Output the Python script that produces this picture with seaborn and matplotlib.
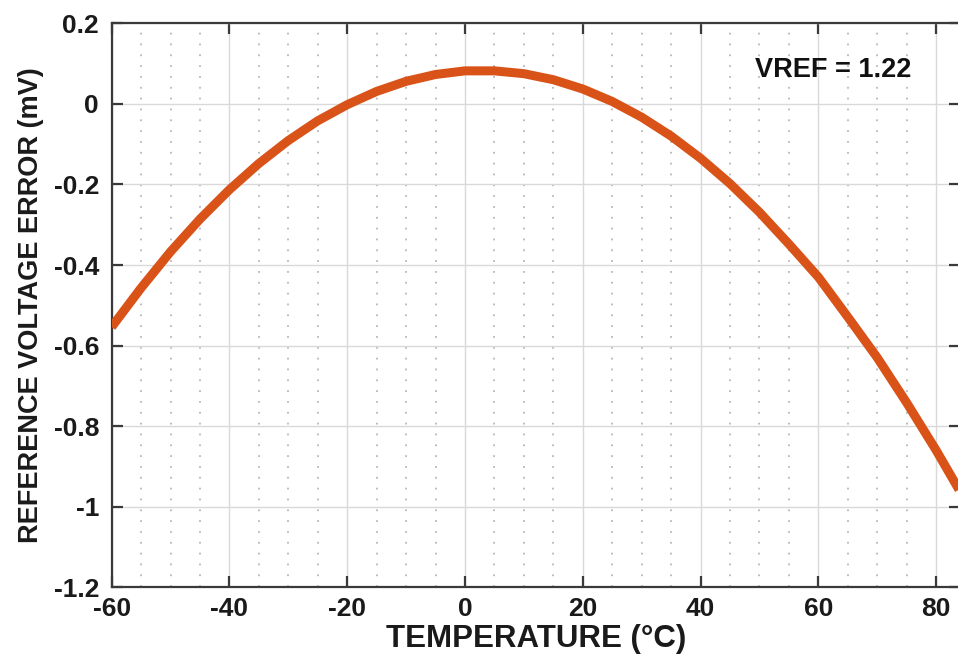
"""
Reference voltage error vs temperature (MATLAB-style chart).
"""

import matplotlib
matplotlib.use("Agg")
import matplotlib.pyplot as plt
import seaborn as sns
import pandas as pd
from matplotlib.ticker import MultipleLocator

# --- Data ---
temperature = [-60, -55, -50, -45, -40, -35, -30, -25, -20, -15, -10, -5,
               0, 5, 10, 15, 20, 25, 30, 35, 40, 45, 50, 55, 60, 65, 70,
               75, 80, 85]
error_mv = [-0.554, -0.457, -0.367, -0.286, -0.213, -0.148, -0.091, -0.042,
            -0.002, 0.031, 0.056, 0.073, 0.082, 0.082, 0.075, 0.060, 0.037,
            0.006, -0.033, -0.080, -0.135, -0.198, -0.269, -0.348, -0.430,
            -0.529, -0.630, -0.742, -0.860, -0.986]
x_ticks = [-60, -40, -20, 0, 20, 40, 60, 80]
y_ticks = [0.2, 0, -0.2, -0.4, -0.6, -0.8, -1, -1.2]
y_tick_labels = ["0.2", "0", "-0.2", "-0.4", "-0.6", "-0.8", "-1", "-1.2"]

df = pd.DataFrame({"temp": temperature, "err": error_mv})

# --- Style ---
sns.set_theme(style="whitegrid")
plt.rcParams["font.family"] = ["Liberation Sans", "DejaVu Sans"]
plt.rcParams["font.weight"] = "bold"
plt.rcParams["axes.unicode_minus"] = False

fig = plt.figure(figsize=(9.58, 6.57), dpi=100)
ax = fig.add_axes([0.1165, 0.1061, 0.8853, 0.8584])

sns.lineplot(data=df, x="temp", y="err", ax=ax, color="#D95319",
             linewidth=6.5, solid_capstyle="butt", solid_joinstyle="round",
             zorder=3)

ax.set_xlim(-60, 84)
ax.set_ylim(-1.2, 0.2)
ax.set_xticks(x_ticks)
ax.set_yticks(y_ticks)
ax.set_yticklabels(y_tick_labels)
ax.xaxis.set_minor_locator(MultipleLocator(5))

# major grid solid light gray, minor x grid dotted
ax.grid(which="major", axis="both", color="#d9d9d9", linewidth=1.0,
        linestyle="-")
ax.grid(which="minor", axis="x", color="#b8b8b8", linewidth=1.3,
        linestyle=(0, (1, 5)))
ax.grid(which="minor", axis="y", visible=False)
ax.set_axisbelow(True)

for side in ["left", "bottom", "top", "right"]:
    ax.spines[side].set_visible(True)
    ax.spines[side].set_color("#3a3a3a")
    ax.spines[side].set_linewidth(1.6)

ax.tick_params(which="major", direction="in", length=8, width=1.6,
               color="#3a3a3a", top=True, right=True, bottom=True, left=True,
               labelsize=19, labelcolor="#1a1a1a")
ax.tick_params(which="minor", length=0)
ax.tick_params(axis="x", pad=7)
ax.tick_params(axis="y", pad=9)
for lbl in ax.get_xticklabels() + ax.get_yticklabels():
    lbl.set_fontweight("bold")

ax.set_xlabel("TEMPERATURE (°C)", fontsize=22.5, fontweight="bold",
              color="#1a1a1a", labelpad=2)
ax.set_ylabel("REFERENCE VOLTAGE ERROR (mV)", fontsize=19.5,
              fontweight="bold", color="#1a1a1a", labelpad=7)

ax.text(62.5, 0.083, "VREF = 1.22", fontsize=19.5, fontweight="bold",
        color="#111111", ha="center", va="center")

fig.savefig("out.png", dpi=100)
plt.close(fig)
